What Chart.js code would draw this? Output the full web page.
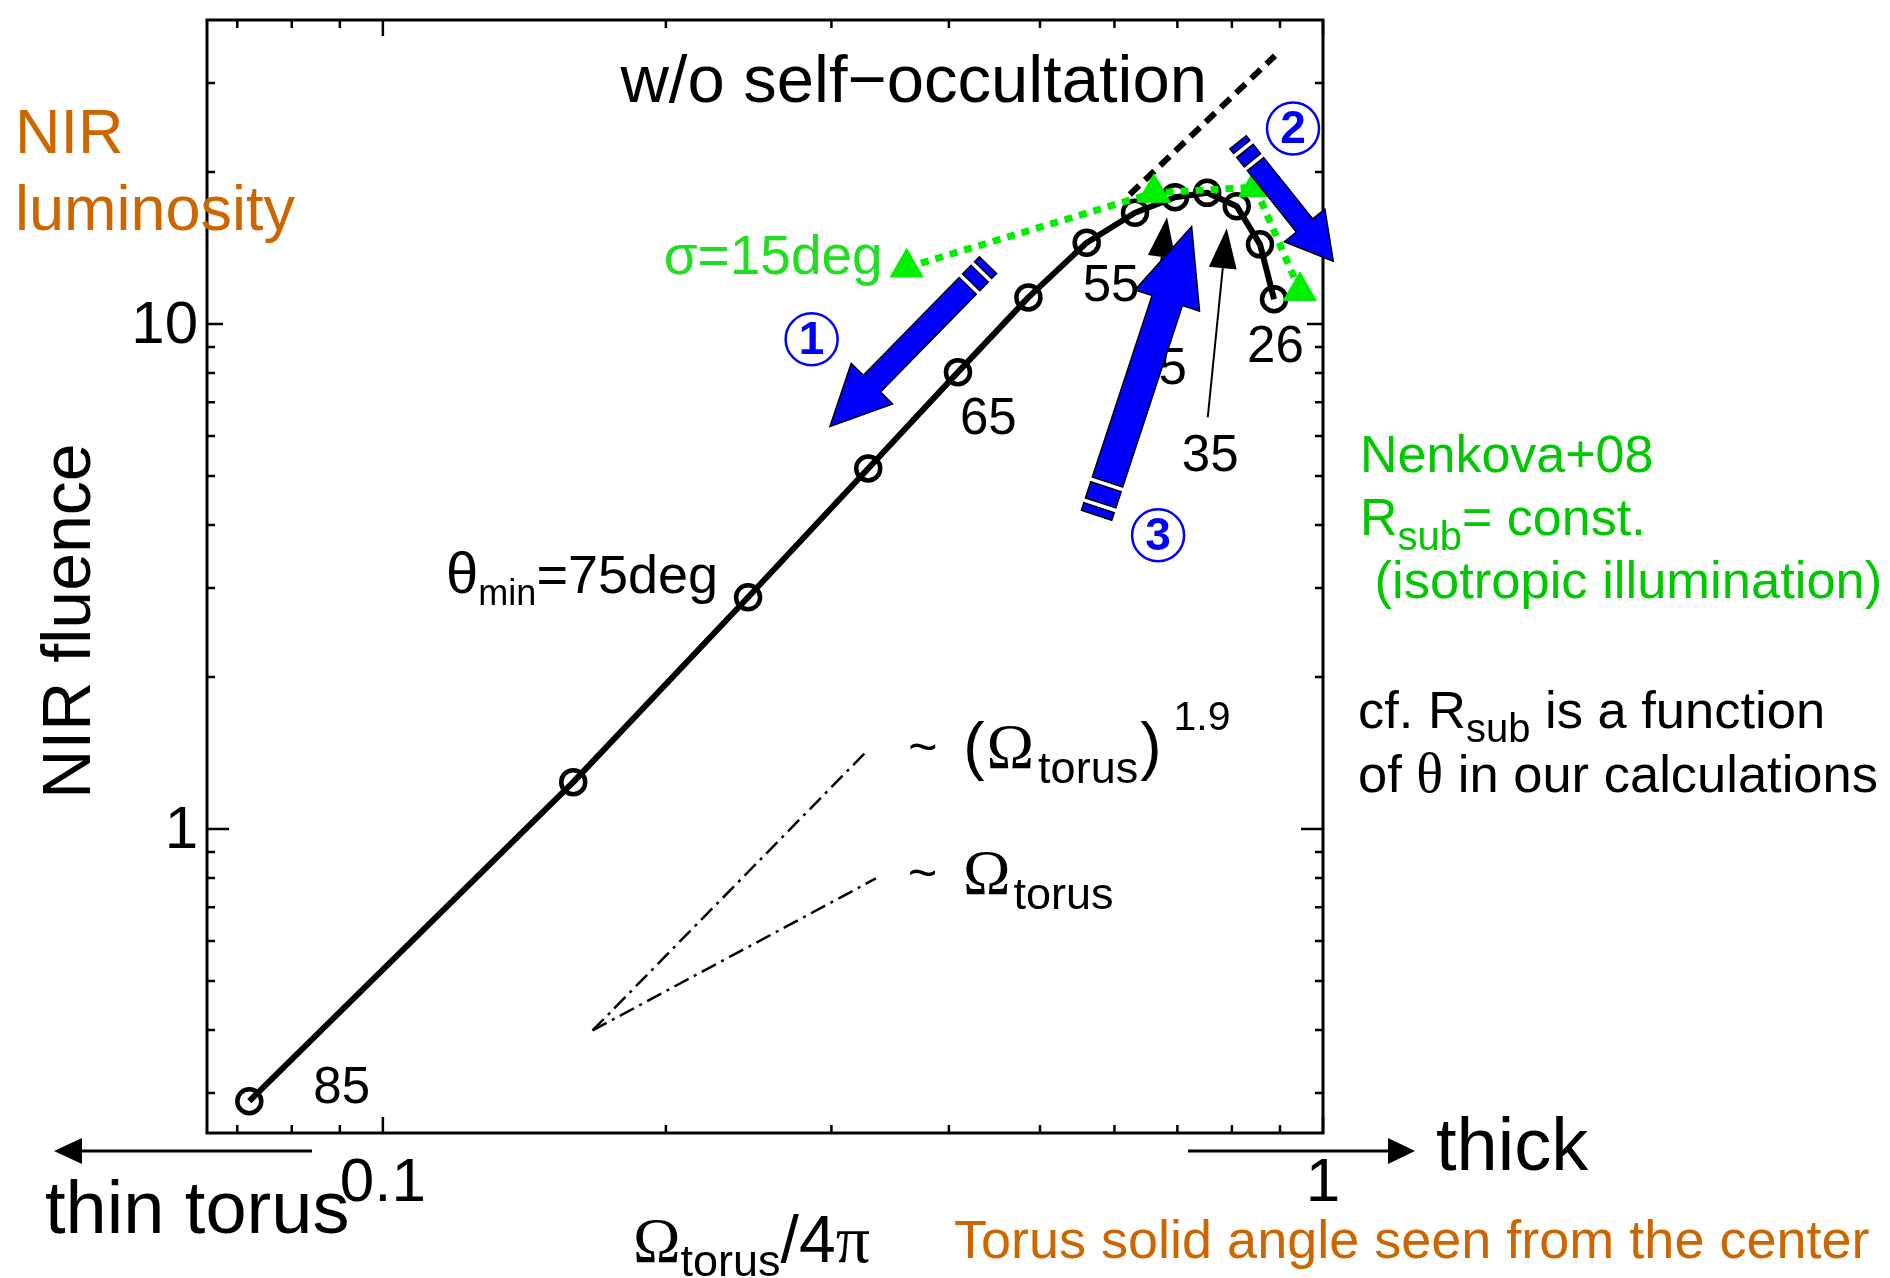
<!DOCTYPE html>
<html>
<head>
<meta charset="utf-8">
<title>NIR fluence vs torus solid angle</title>
<script src="https://cdn.jsdelivr.net/npm/chart.js@4.4.1/dist/chart.umd.min.js"></script>
<style>
  html, body { margin: 0; padding: 0; background: #fff; }
  #wrap { width: 1890px; height: 1278px; }
</style>
</head>
<body>
<div id="wrap"><canvas id="myChart" width="1890" height="1278"></canvas></div>
<script>
"use strict";

// models: minimum half-opening angle of the torus (deg)
const thetaMin = [85, 80, 75, 70, 65, 60, 55, 50, 45, 40, 35, 30, 26];
// Omega_torus / 4pi
const omegaFrac = [0.0721, 0.1594, 0.2446, 0.3283, 0.409, 0.486, 0.5606, 0.631, 0.696, 0.753, 0.8096, 0.857, 0.887];
// NIR fluence
const nirFluence = [0.289, 1.238, 2.877, 5.176, 8.03, 11.29, 14.49, 16.61, 17.83, 18.19, 17.11, 14.38, 11.2];

// Nenkova+08, sigma = 15deg
const nenkovaOmega = [0.3607, 0.661, 0.847, 0.945];
const nenkovaFluence = [12.94, 18.19, 18.66, 11.63];

// w/o self-occultation
const noOccOmega = [0.623, 0.889];
const noOccFluence = [18.05, 33.98];

// slope guides
const slope19Omega = [0.1671, 0.3283];
const slope19Fluence = [0.399, 1.436];
const slope1Omega = [0.1671, 0.3345];
const slope1Fluence = [0.399, 0.798];

const xTickLabels = [0.1, 1];
const yTickLabels = [1, 10];
const xMinorTicks = [0.07, 0.08, 0.09, 0.2, 0.3, 0.4, 0.5, 0.6, 0.7, 0.8, 0.9];
const yMinorTicks = [0.3, 0.4, 0.5, 0.6, 0.7, 0.8, 0.9, 2, 3, 4, 5, 6, 7, 8, 9, 20, 30];

const SANS = '"Liberation Sans", Arial, Helvetica, sans-serif';
const SERIF = '"Liberation Serif", "Times New Roman", serif';
const ORANGE = '#cc6600';
const GREEN_TXT = '#00c800';
const LIME = '#00ee00';
const BLUE = '#0000ff';

const toXY = (xs, ys) => xs.map((x, i) => ({ x: x, y: ys[i] }));

// point labels (index into the model arrays, pixel offset from the point)
const pointLabels = [
    { i: 0, dx: 64, dy: 2 },
    { i: 4, dx: 2, dy: 62 },
    { i: 6, dx: -4, dy: 58 },
    { i: 12, dx: -27, dy: 63 }
];
// labels with a thin pointer arrow
const pointerLabels = [
    { i: 8, lx: -45, ly: 187, tail: [-25, 147], tip: [-8, 20] },
    { i: 10, lx: -55, ly: 265, tail: [-29, 211], tip: [-10, 22] }
];

// blue block arrows, in data coordinates
const blockArrows = [
    { tip: [0.2989, 6.267], tail: [0.4402, 13.08], shaft: 24, headW: 58, headL: 60, thin: 7, block: 12, gap: 5 },
    { tip: [1.0256, 13.31], tail: [0.8121, 22.9], shaft: 21, headW: 52, headL: 46, thin: 6, block: 12, gap: 5 },
    { tip: [0.7249, 15.6], tail: [0.5743, 4.181], shaft: 32, headW: 68, headL: 78, thin: 8, block: 17, gap: 5 }
];
const circledNums = [
    { t: '1', at: [0.2858, 9.331] },
    { t: '2', at: [0.9292, 24.4] },
    { t: '3', at: [0.6677, 3.817] }
];

function textRun(c, x, y, parts) {
    c.textAlign = 'left';
    parts.forEach(function (p) {
        c.font = p[1];
        c.fillText(p[0], x, y + (p[2] || 0));
        x += c.measureText(p[0]).width + (p[3] || 0);
    });
    return x;
}

function poly(c, pts) {
    c.beginPath();
    c.moveTo(pts[0][0], pts[0][1]);
    for (let k = 1; k < pts.length; k++) c.lineTo(pts[k][0], pts[k][1]);
    c.closePath();
    c.fill();
    c.stroke();
}

function blockArrow(c, tip, tail, o) {
    const dx = tip[0] - tail[0], dy = tip[1] - tail[1];
    const L = Math.hypot(dx, dy);
    const ux = dx / L, uy = dy / L, nx = -uy, ny = ux;
    const P = (s, w) => [tail[0] + ux * s + nx * w, tail[1] + uy * s + ny * w];
    const hs = o.shaft / 2, hw = o.headW / 2, hb = L - o.headL;
    c.fillStyle = BLUE;
    c.strokeStyle = '#000';
    c.lineWidth = 1.5;
    c.lineJoin = 'miter';
    poly(c, [P(0, -hs), P(o.thin, -hs), P(o.thin, hs), P(0, hs)]);
    let s = o.thin + o.gap;
    poly(c, [P(s, -hs), P(s + o.block, -hs), P(s + o.block, hs), P(s, hs)]);
    s += o.block + o.gap;
    poly(c, [P(s, -hs), P(hb, -hs), P(hb, -hw), P(L, 0), P(hb, hw), P(hb, hs), P(s, hs)]);
}

function lineArrow(c, x0, y0, x1, y1, headL, headW, lw) {
    const dx = x1 - x0, dy = y1 - y0, L = Math.hypot(dx, dy);
    const ux = dx / L, uy = dy / L, nx = -uy, ny = ux;
    const bx = x1 - ux * headL, by = y1 - uy * headL;
    c.strokeStyle = '#000';
    c.fillStyle = '#000';
    c.lineWidth = lw;
    c.beginPath();
    c.moveTo(x0, y0);
    c.lineTo(bx, by);
    c.stroke();
    c.beginPath();
    c.moveTo(x1, y1);
    c.lineTo(bx + nx * headW / 2, by + ny * headW / 2);
    c.lineTo(bx - nx * headW / 2, by - ny * headW / 2);
    c.closePath();
    c.fill();
}

const annotate = {
    id: 'annotate',
    afterDatasetsDraw(chart) {
        const c = chart.ctx, xs = chart.scales.x, ys = chart.scales.y, a = chart.chartArea;
        const px = v => xs.getPixelForValue(v);
        const py = v => ys.getPixelForValue(v);
        c.save();

        // frame
        c.strokeStyle = '#000';
        c.lineWidth = 3;
        c.strokeRect(a.left, a.top, a.right - a.left, a.bottom - a.top);

        // inward ticks on all four sides
        c.lineWidth = 2.5;
        c.beginPath();
        xMinorTicks.concat(xTickLabels).forEach(function (v) {
            const len = xTickLabels.indexOf(v) >= 0 ? 16 : 8;
            const x = px(v);
            c.moveTo(x, a.bottom); c.lineTo(x, a.bottom - len);
            c.moveTo(x, a.top); c.lineTo(x, a.top + len);
        });
        yMinorTicks.concat(yTickLabels).forEach(function (v) {
            const len = v === 1 ? 22 : (yTickLabels.indexOf(v) >= 0 ? 16 : 8);
            const y = py(v);
            c.moveTo(a.left, y); c.lineTo(a.left + len, y);
            c.moveTo(a.right, y); c.lineTo(a.right - len, y);
        });
        c.stroke();

        // tick labels
        c.fillStyle = '#000';
        c.font = '60px ' + SANS;
        c.textAlign = 'right';
        c.textBaseline = 'middle';
        yTickLabels.forEach(v => c.fillText(String(v), a.left - 9, py(v) + 2));
        c.textAlign = 'center';
        c.textBaseline = 'alphabetic';
        c.font = '62px ' + SANS;
        xTickLabels.forEach(v => c.fillText(String(v), px(v), a.bottom + 68));

        // axis titles
        c.save();
        c.translate(90, 621);
        c.rotate(-Math.PI / 2);
        c.font = '68px ' + SANS;
        c.textAlign = 'center';
        c.fillText('NIR fluence', 0, 0);
        c.restore();
        textRun(c, 633, 1262, [
            ['\u03A9', '64px ' + SERIF],
            ['torus', '45px ' + SANS, 14],
            ['/4', '66px ' + SANS],
            ['\u03C0', '68px ' + SERIF]
        ]);

        // labels at model points
        c.fillStyle = '#000';
        c.font = '51px ' + SANS;
        c.textAlign = 'left';
        pointLabels.forEach(function (l) {
            c.fillText(String(thetaMin[l.i]), px(omegaFrac[l.i]) + l.dx, py(nirFluence[l.i]) + l.dy);
        });
        pointerLabels.forEach(function (l) {
            const x = px(omegaFrac[l.i]), y = py(nirFluence[l.i]);
            c.font = '51px ' + SANS;
            c.textAlign = 'left';
            c.fillText(String(thetaMin[l.i]), x + l.lx, y + l.ly);
            lineArrow(c, x + l.tail[0], y + l.tail[1], x + l.tip[0], y + l.tip[1], 40, 28, 2);
        });
        // theta_min = 75deg
        {
            const x = px(omegaFrac[2]) - 30, y = py(nirFluence[2]) - 4;
            c.fillStyle = '#000';
            c.font = '58px ' + SANS;
            const w1 = c.measureText('\u03B8').width;
            c.font = '36px ' + SANS;
            const w2 = c.measureText('min').width;
            c.font = '54px ' + SANS;
            const w3 = c.measureText('=' + thetaMin[2] + 'deg').width;
            textRun(c, x - w1 - w2 - w3, y, [
                ['\u03B8', '58px ' + SANS],
                ['min', '36px ' + SANS, 12],
                ['=' + thetaMin[2] + 'deg', '54px ' + SANS]
            ]);
        }

        // w/o self-occultation
        c.fillStyle = '#000';
        c.font = '67px ' + SANS;
        c.textAlign = 'right';
        c.fillText('w/o self\u2212occultation', px(noOccOmega[1]) - 68, py(noOccFluence[1]) + 46);

        // sigma = 15deg
        c.fillStyle = '#22dd22';
        c.font = '55px ' + SANS;
        c.textAlign = 'right';
        c.fillText('\u03C3=15deg', px(nenkovaOmega[0]) - 24, py(nenkovaFluence[0]) + 7);

        // slope labels
        c.fillStyle = '#000';
        {
            const x = px(slope19Omega[1]) + 40, y = py(slope19Fluence[1]) + 18;
            textRun(c, x, y, [['~', '50px ' + SANS, -4]]);
            textRun(c, x + 55, y, [
                ['(', '64px ' + SANS, 0, 2],
                ['\u03A9', '64px ' + SERIF, 0, 4],
                ['torus', '45px ' + SANS, 15, 2],
                [')', '64px ' + SANS, 0, 12],
                ['1.9', '41px ' + SANS, -38]
            ]);
        }
        {
            const x = px(slope1Omega[1]) + 32, y = py(slope1Fluence[1]) + 16;
            textRun(c, x, y, [['~', '50px ' + SANS, -4]]);
            textRun(c, x + 55, y, [
                ['\u03A9', '64px ' + SERIF, 0, 3],
                ['torus', '45px ' + SANS, 15]
            ]);
        }

        // blue arrows and circled numbers
        blockArrows.forEach(function (b) {
            blockArrow(c, [px(b.tip[0]), py(b.tip[1])], [px(b.tail[0]), py(b.tail[1])], b);
        });
        circledNums.forEach(function (n) {
            const x = px(n.at[0]), y = py(n.at[1]);
            c.strokeStyle = BLUE;
            c.lineWidth = 2.5;
            c.beginPath();
            c.arc(x, y, 26, 0, Math.PI * 2);
            c.stroke();
            c.fillStyle = BLUE;
            c.font = 'bold 46px ' + SANS;
            c.textAlign = 'center';
            c.textBaseline = 'middle';
            c.fillText(n.t, x, y + 2);
            c.textBaseline = 'alphabetic';
        });

        // texts around the plot
        c.textAlign = 'left';
        c.fillStyle = ORANGE;
        c.font = '63px ' + SANS;
        c.fillText('NIR', 15, 153);
        c.fillText('luminosity', 15, 230);
        c.font = '54px ' + SANS;
        c.fillText('Torus solid angle seen from the center', 954, 1258);

        c.fillStyle = '#000';
        c.font = '74px ' + SANS;
        c.fillText('thin torus', 45, 1233);
        c.fillText('thick', 1436, 1170);
        lineArrow(c, 312, 1151, 54, 1151, 28, 26, 3);
        lineArrow(c, 1188, 1151, 1415, 1151, 27, 26, 3);

        c.fillStyle = GREEN_TXT;
        textRun(c, 1360, 472, [['Nenkova+08', '52px ' + SANS]]);
        textRun(c, 1360, 535, [
            ['R', '52px ' + SANS],
            ['sub', '40px ' + SANS, 15],
            ['= const.', '52px ' + SANS]
        ]);
        textRun(c, 1360, 598, [[' (isotropic illumination)', '52.5px ' + SANS]]);

        c.fillStyle = '#000';
        textRun(c, 1358, 728, [
            ['cf. R', '52.5px ' + SANS],
            ['sub', '40px ' + SANS, 14],
            [' is a function', '52.5px ' + SANS]
        ]);
        textRun(c, 1358, 792, [
            ['of ', '52.5px ' + SANS],
            ['\u03B8', '56px ' + SERIF],
            [' in our calculations', '52.5px ' + SANS]
        ]);

        c.restore();
    }
};

const ctx = document.getElementById('myChart').getContext('2d');
const myChart = new Chart(ctx, {
    type: 'scatter',
    data: {
        datasets: [
            {
                label: 'Nenkova+08',
                data: toXY(nenkovaOmega, nenkovaFluence),
                showLine: true,
                borderColor: LIME,
                backgroundColor: LIME,
                borderWidth: 7,
                borderDash: [8, 7],
                pointStyle: 'triangle',
                pointRadius: 19,
                pointBorderWidth: 1,
                pointBackgroundColor: LIME,
                pointBorderColor: LIME,
                order: 0
            },
            {
                label: 'model',
                data: toXY(omegaFrac, nirFluence),
                showLine: true,
                borderColor: '#000',
                borderWidth: 6,
                borderJoinStyle: 'round',
                pointRadius: 12,
                pointBorderWidth: 4.5,
                pointBorderColor: '#000',
                pointBackgroundColor: 'rgba(0,0,0,0)',
                order: 1
            },
            {
                label: 'w/o self-occultation',
                data: toXY(noOccOmega, noOccFluence),
                showLine: true,
                borderColor: '#000',
                borderWidth: 6,
                borderDash: [13, 8],
                pointRadius: 0,
                order: 2
            },
            {
                label: 'slope 1.9',
                data: toXY(slope19Omega, slope19Fluence),
                showLine: true,
                borderColor: '#000',
                borderWidth: 2.5,
                borderDash: [16, 6, 3, 6],
                pointRadius: 0,
                order: 3
            },
            {
                label: 'slope 1',
                data: toXY(slope1Omega, slope1Fluence),
                showLine: true,
                borderColor: '#000',
                borderWidth: 2.5,
                borderDash: [16, 6, 3, 6],
                pointRadius: 0,
                order: 4
            }
        ]
    },
    options: {
        responsive: false,
        animation: false,
        layout: { padding: { left: 207, right: 567, top: 14, bottom: 145 } },
        scales: {
            x: { type: 'logarithmic', min: 0.065, max: 1.0, display: false },
            y: { type: 'logarithmic', min: 0.25, max: 40, display: false }
        },
        plugins: {
            legend: { display: false },
            tooltip: { enabled: false }
        }
    },
    plugins: [annotate]
});
</script>
</body>
</html>
